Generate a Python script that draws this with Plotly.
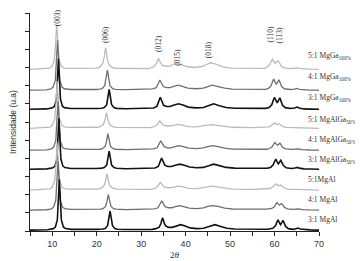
import plotly.graph_objects as go

# (2theta, intensity above baseline), one list per sample
mgal_3_1 = [(5,0),(8,0.01),(8.9,0.02),(10.25,0.08),(10.7,0.17),(11.15,0.56),(11.38,1.4),(11.49,2.24),(11.6,2.8),(11.71,2.24),(11.82,1.4),(12.05,0.56),(12.5,0.17),(12.95,0.09),(14.3,0.04),(17,0.03),(20,0.04),
            (21.35,0.06),(21.9,0.09),(22.45,0.24),(22.72,0.55),(22.86,0.86),(23.0,1.05),(23.14,0.86),(23.28,0.55),(23.55,0.24),(24.1,0.09),(24.65,0.05),(26.5,0.03),(30,0.03),
            (32.5,0.04),(33.3,0.08),(34.05,0.16),(34.42,0.35),(34.61,0.54),(34.8,0.67),(34.99,0.56),(35.18,0.38),(35.55,0.22),(36.2,0.15),(37.0,0.15),
            (37.9,0.23),(38.9,0.3),(39.9,0.23),(41,0.12),(42.5,0.08),(44,0.1),(45.3,0.2),(46.6,0.3),(47.9,0.2),(49.3,0.1),(51,0.06),(55,0.04),(58.5,0.05),
            (59.6,0.1),(60.2,0.24),(60.55,0.45),(60.8,0.56),(61.05,0.42),(61.35,0.3),(61.65,0.42),(61.9,0.53),(62.15,0.4),(62.5,0.2),(63.1,0.08),(64.2,0.04),(64.8,0.07),(65.3,0.11),(65.8,0.06),(66.8,0.02),(68,0.01),(70,0.0)]

mgal_4_1 = [(5,0),(8,0.01),(8.8,0.02),(9.8,0.07),(10.3,0.16),(10.8,0.54),(11.05,1.35),(11.18,2.16),(11.3,2.7),(11.42,2.16),(11.55,1.35),(11.8,0.54),(12.3,0.16),(12.8,0.08),(14.2,0.04),(17,0.03),(20,0.04),
            (20.8,0.05),(21.4,0.08),(22.0,0.2),(22.3,0.45),(22.45,0.7),(22.6,0.86),(22.75,0.7),(22.9,0.45),(23.2,0.2),(23.8,0.08),(24.4,0.05),(26.5,0.03),(29.3,0.03),(29.6,0.06),(29.9,0.03),(32.3,0.03),
            (33.0,0.07),(33.8,0.13),(34.2,0.28),(34.4,0.42),(34.6,0.51),(34.8,0.43),(35.0,0.3),(35.4,0.19),(36.1,0.13),(36.9,0.13),
            (37.7,0.19),(38.6,0.25),(39.6,0.19),(40.8,0.11),(42.5,0.08),(44,0.12),(45.0,0.2),(46.0,0.25),(47.3,0.2),(48.8,0.11),(50.5,0.06),(55,0.04),(58.3,0.05),
            (59.4,0.09),(60.0,0.2),(60.35,0.35),(60.6,0.42),(60.85,0.33),(61.1,0.27),(61.35,0.32),(61.6,0.36),(61.85,0.29),(62.2,0.16),(62.9,0.07),(64.2,0.04),(65.3,0.07),(66.3,0.03),(68,0.01),(70,0.0)]

mgal_5_1 = [(5,0),(8,0.02),(8.6,0.03),(9.45,0.07),(10.0,0.16),(10.55,0.52),(10.82,1.3),(10.96,2.08),(11.1,2.6),(11.24,2.08),(11.38,1.3),(11.65,0.52),(12.2,0.16),(12.75,0.08),(14,0.05),(17,0.04),(20,0.05),
            (20.2,0.06),(20.9,0.09),(21.6,0.22),(21.95,0.47),(22.12,0.74),(22.3,0.91),(22.48,0.74),(22.65,0.47),(23.0,0.22),(23.7,0.09),(24.4,0.05),(26.5,0.04),(32.0,0.04),
            (32.8,0.08),(33.3,0.13),(33.8,0.24),(34.05,0.35),(34.3,0.43),(34.55,0.36),(34.8,0.26),(35.3,0.17),(36.1,0.13),(36.9,0.14),
            (37.5,0.18),(38.4,0.22),(39.4,0.18),(40.7,0.1),(42.5,0.08),(44,0.12),(45.0,0.18),(45.8,0.22),(47.2,0.18),(48.8,0.1),(50.5,0.06),(55,0.04),(58,0.05),
            (59.0,0.09),(59.7,0.2),(60.05,0.3),(60.3,0.35),(60.6,0.29),(60.9,0.24),(61.15,0.26),(61.4,0.28),(61.7,0.22),(62.1,0.13),(62.9,0.06),(64.5,0.04),(65.3,0.05),(66.5,0.02),(68,0.01),(70,0.0)]

mgalga_3_1 = [(5,0),(8,0.01),(8.8,0.02),(10.15,0.08),(10.6,0.17),(11.05,0.56),(11.28,1.4),(11.39,2.24),(11.5,2.8),(11.61,2.24),(11.72,1.4),(11.95,0.56),(12.4,0.17),(12.85,0.09),(14.2,0.04),(17,0.03),(20,0.04),
              (21.15,0.06),(21.7,0.09),(22.25,0.23),(22.52,0.53),(22.66,0.82),(22.8,1.0),(22.94,0.82),(23.08,0.53),(23.35,0.23),(23.9,0.09),(24.45,0.05),(26.5,0.03),(32.3,0.03),
              (33.1,0.07),(33.85,0.15),(34.22,0.33),(34.41,0.5),(34.6,0.61),(34.79,0.52),(34.98,0.36),(35.35,0.21),(36.0,0.15),(36.8,0.15),
              (37.7,0.22),(38.7,0.28),(39.7,0.22),(40.9,0.12),(42.5,0.08),(44,0.1),(45.2,0.19),(46.3,0.28),(47.6,0.2),(49.1,0.1),(51,0.06),(55,0.04),(58.3,0.05),
              (59.1,0.1),(59.7,0.24),(60.05,0.45),(60.3,0.56),(60.55,0.42),(60.85,0.3),(61.15,0.4),(61.4,0.49),(61.65,0.38),(62.0,0.2),(62.6,0.08),(63.8,0.04),(64.6,0.07),(65.1,0.1),(65.6,0.06),(66.6,0.02),(68,0.01),(70,0.0)]

mgalga_4_1 = [(5,0),(8,0.01),(8.8,0.02),(9.8,0.07),(10.3,0.16),(10.8,0.54),(11.05,1.35),(11.18,2.16),(11.3,2.7),(11.42,2.16),(11.55,1.35),(11.8,0.54),(12.3,0.16),(12.8,0.08),(14.2,0.04),(17,0.03),(20,0.04),
              (20.7,0.05),(21.3,0.08),(21.9,0.21),(22.2,0.47),(22.35,0.74),(22.5,0.91),(22.65,0.74),(22.8,0.47),(23.1,0.21),(23.7,0.08),(24.3,0.05),(26.5,0.03),(32.3,0.03),
              (32.8,0.07),(33.6,0.13),(34.0,0.28),(34.2,0.42),(34.4,0.51),(34.6,0.43),(34.8,0.3),(35.2,0.19),(35.9,0.13),(36.7,0.13),
              (37.6,0.19),(38.5,0.25),(39.5,0.19),(40.7,0.11),(42.5,0.08),(44,0.12),(45.0,0.2),(46.0,0.25),(47.3,0.2),(48.8,0.11),(50.5,0.06),(55,0.04),(58.2,0.05),
              (58.9,0.09),(59.5,0.2),(59.85,0.35),(60.1,0.42),(60.38,0.33),(60.65,0.27),(60.95,0.33),(61.2,0.38),(61.45,0.3),(61.8,0.16),(62.5,0.07),(64,0.04),(65.2,0.07),(66.2,0.03),(68,0.01),(70,0.0)]

mgalga_5_1 = [(5,0),(8,0.02),(8.6,0.03),(9.45,0.07),(10.0,0.16),(10.55,0.52),(10.82,1.3),(10.96,2.08),(11.1,2.6),(11.24,2.08),(11.38,1.3),(11.65,0.52),(12.2,0.16),(12.75,0.08),(14,0.05),(17,0.04),(20,0.05),
              (20.1,0.06),(20.8,0.09),(21.5,0.21),(21.85,0.45),(22.02,0.7),(22.2,0.86),(22.38,0.7),(22.55,0.45),(22.9,0.21),(23.6,0.09),(24.3,0.05),(26.5,0.04),(32,0.04),
              (32.7,0.08),(33.2,0.13),(33.7,0.23),(33.95,0.33),(34.2,0.41),(34.45,0.34),(34.7,0.25),(35.2,0.17),(36.0,0.13),(36.8,0.14),
              (37.4,0.18),(38.3,0.22),(39.3,0.18),(40.6,0.1),(42.5,0.08),(44,0.12),(45.0,0.18),(45.8,0.21),(47.2,0.17),(48.8,0.1),(50.5,0.06),(55,0.04),(58,0.05),
              (58.8,0.08),(59.4,0.18),(59.75,0.26),(60.0,0.3),(60.3,0.25),(60.6,0.21),(60.85,0.23),(61.1,0.24),(61.4,0.19),(61.8,0.11),(62.6,0.05),(64.5,0.03),(66.5,0.02),(68,0.01),(70,0.0)]

mgga_3_1 = [(5,0),(8,0.01),(8.7,0.02),(10.05,0.08),(10.5,0.17),(10.95,0.56),(11.18,1.4),(11.29,2.24),(11.4,2.8),(11.51,2.24),(11.62,1.4),(11.85,0.56),(12.3,0.17),(12.75,0.09),(14.1,0.04),(17,0.03),(20,0.04),
            (21.15,0.06),(21.7,0.1),(22.25,0.25),(22.52,0.57),(22.66,0.9),(22.8,1.1),(22.94,0.9),(23.08,0.57),(23.35,0.25),(23.9,0.1),(24.45,0.05),(26.5,0.03),(32,0.03),
            (32.8,0.07),(33.55,0.16),(33.92,0.35),(34.11,0.54),(34.3,0.66),(34.49,0.56),(34.68,0.38),(35.05,0.22),(35.7,0.15),(36.5,0.15),
            (37.4,0.23),(38.4,0.3),(39.4,0.23),(40.6,0.12),(42.3,0.08),(44,0.1),(45.1,0.19),(46.3,0.3),(47.6,0.2),(49.1,0.1),(51,0.06),(55,0.04),(58,0.05),
            (58.8,0.1),(59.4,0.26),(59.75,0.52),(60.0,0.66),(60.28,0.5),(60.6,0.36),(60.93,0.5),(61.2,0.63),(61.45,0.46),(61.8,0.22),(62.4,0.09),(63.6,0.04),(64.5,0.07),(65.1,0.12),(65.7,0.06),(66.7,0.02),(68,0.01),(70,0.0)]

mgga_4_1 = [(5,0),(8,0.01),(8.7,0.02),(9.7,0.07),(10.2,0.17),(10.7,0.55),(10.95,1.38),(11.08,2.2),(11.2,2.75),(11.32,2.2),(11.45,1.38),(11.7,0.55),(12.2,0.17),(12.7,0.08),(14.1,0.04),(17,0.03),(20,0.04),
            (20.6,0.06),(21.2,0.09),(21.8,0.25),(22.1,0.56),(22.25,0.88),(22.4,1.1),(22.55,0.88),(22.7,0.56),(23.0,0.25),(23.6,0.09),(24.2,0.05),(26.5,0.03),(32,0.03),
            (32.6,0.07),(33.4,0.14),(33.8,0.3),(34.0,0.45),(34.2,0.56),(34.4,0.47),(34.6,0.33),(35.0,0.2),(35.7,0.14),(36.5,0.14),
            (37.3,0.21),(38.3,0.28),(39.3,0.21),(40.5,0.12),(42.3,0.08),(44,0.11),(45.0,0.2),(46.0,0.28),(47.3,0.2),(48.8,0.11),(50.5,0.06),(55,0.04),(58,0.05),
            (58.6,0.1),(59.2,0.24),(59.55,0.48),(59.8,0.61),(60.08,0.46),(60.4,0.34),(60.73,0.46),(61.0,0.57),(61.25,0.42),(61.6,0.2),(62.2,0.08),(63.5,0.04),(64.5,0.06),(65.0,0.1),(65.6,0.05),(66.6,0.02),(68,0.01),(70,0.0)]

mgga_5_1 = [(5,0),(8,0.02),(8.5,0.03),(9.35,0.07),(9.9,0.15),(10.45,0.49),(10.72,1.23),(10.86,1.96),(11.0,2.45),(11.14,1.96),(11.28,1.23),(11.55,0.49),(12.1,0.15),(12.65,0.07),(14,0.05),(17,0.04),(19.5,0.05),
            (19.9,0.07),(20.6,0.11),(21.3,0.28),(21.65,0.62),(21.82,0.97),(22.0,1.2),(22.18,0.97),(22.35,0.62),(22.7,0.28),(23.4,0.11),(24.1,0.06),(26.5,0.04),(31.5,0.04),
            (32.1,0.08),(32.9,0.15),(33.45,0.32),(33.68,0.48),(33.9,0.59),(34.12,0.5),(34.35,0.35),(34.8,0.22),(35.6,0.17),(36.5,0.18),
            (37.2,0.28),(38.1,0.35),(39.1,0.27),(40.4,0.14),(42.2,0.1),(43.8,0.16),(44.8,0.28),(45.6,0.36),(46.8,0.28),(48.4,0.14),(50.2,0.07),(55,0.04),(57.8,0.05),
            (58.2,0.1),(58.9,0.25),(59.25,0.44),(59.5,0.55),(59.8,0.43),(60.15,0.33),(60.5,0.42),(60.8,0.48),(61.1,0.36),(61.5,0.18),(62.2,0.08),(63.5,0.04),(64.5,0.06),(65.0,0.08),(65.6,0.05),(66.6,0.02),(68,0.01),(70,0.0)]

series = [mgal_3_1, mgal_4_1, mgal_5_1, mgalga_3_1, mgalga_4_1, mgalga_5_1, mgga_3_1, mgga_4_1, mgga_5_1]
labels = ["3:1 MgAl", "4:1 MgAl", "5:1MgAl",
          "3:1 MgAlGa<sub>50%</sub>", "4:1 MgAlGa<sub>50%</sub>", "5:1 MgAlGa<sub>50%</sub>",
          "3:1 MgGa<sub>100%</sub>", "4:1 MgGa<sub>100%</sub>", "5:1 MgGa<sub>100%</sub>"]
offsets = [0.05, 1.15, 2.25, 3.4, 4.45, 5.65, 6.7, 7.75, 8.9]
label_y = [0.66, 1.76, 2.81, 3.91, 5.01, 6.11, 7.32, 8.48, 9.63]

hkl_labels = ["(003)", "(006)", "(012)", "(015)", "(018)", "(110)", "(113)"]
hkl_x = [11.07, 22.1, 33.8, 38.1, 45.0, 59.1, 61.2]
hkl_y = [11.77, 10.79, 10.29, 9.55, 10.0, 10.79, 10.75]

Y_MAX = 12
colors = ["#111111", "#6e6e6e", "#bababa"] * 3
widths = [1.6, 1.3, 1.3] * 3

fig = go.Figure()
for i in range(len(series) - 1, -1, -1):
    pts = series[i]
    fig.add_trace(go.Scatter(
        x=[p[0] for p in pts],
        y=[p[1] + offsets[i] for p in pts],
        mode="lines",
        line=dict(color=colors[i], width=widths[i]),
        showlegend=False,
        hoverinfo="skip",
    ))

annotations = []
for lab, ly in zip(labels, label_y):
    annotations.append(dict(x=67.2, y=ly / Y_MAX, xref="x", yref="paper", text=lab, showarrow=False,
                            xanchor="left", yanchor="middle", borderpad=0,
                            font=dict(family="Liberation Serif", size=7.5, color="#333333")))
for lab, hx, hy in zip(hkl_labels, hkl_x, hkl_y):
    annotations.append(dict(x=hx, y=hy / Y_MAX, xref="x", yref="paper", text=lab, showarrow=False,
                            textangle=-90, xanchor="center", yanchor="middle", borderpad=0,
                            font=dict(family="Liberation Serif", size=7.5, color="#333333")))

# the page body adds an 8 px margin, so the figure is 8 px smaller and its margins shifted
fig.update_layout(
    width=355, height=253,
    margin=dict(l=22, r=44, t=5, b=30, autoexpand=False),
    paper_bgcolor="white", plot_bgcolor="white",
    annotations=annotations,
    xaxis=dict(range=[5, 70], tick0=0, dtick=10, ticks="outside", ticklen=4, tickwidth=1,
               tickcolor="#222", showline=True, linecolor="#222", linewidth=1,
               showgrid=False, zeroline=False, automargin=False,
               minor=dict(dtick=5, ticks="outside", ticklen=4, tickcolor="#222", showgrid=False),
               tickfont=dict(family="Liberation Sans", size=9, color="#333"),
               title=dict(text="2<i>θ</i>", font=dict(family="Liberation Serif", size=9, color="#333"),
                          standoff=3)),
    yaxis=dict(range=[0, Y_MAX], tick0=0, dtick=1, ticks="outside", ticklen=4, tickwidth=1,
               tickcolor="#222", showline=True, linecolor="#222", linewidth=1,
               showgrid=False, zeroline=False, showticklabels=False, automargin=False,
               title=dict(text="Intensidade (u.a)", font=dict(family="Liberation Sans", size=8.5, color="#333"),
                          standoff=14)),
)

fig.write_html("out.html")
